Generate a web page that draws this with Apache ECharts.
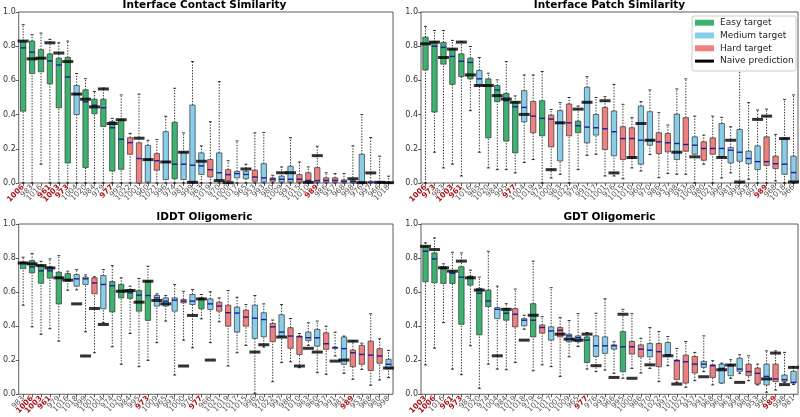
<!DOCTYPE html>
<html><head><meta charset="utf-8">
<script src="https://cdn.jsdelivr.net/npm/echarts@6/dist/echarts.min.js"></script>
<style>html,body{margin:0;padding:0;background:#fff}#c{width:800px;height:417px}</style>
</head><body><div id="c"></div>
<script>
// ---------- difficulty classes ----------
const easyTargets = ['1006','983','1016','961','1003','973','1020','984','979','977','995','974'];
const hardTargets = ['1022','1001','1021','1019','1000','953','980','1015','1010','989','986','957','968'];
const redTargets = ['1006','961','1003','973','977','989'];
const yTicks = [0, 0.2, 0.4, 0.6, 0.8, 1.0];

// ---------- Interface Contact Similarity ----------
const contactTargets = ['1006','983','1016','961','1003','973','1004','1020','984','979','977','995','1022','1001','960','1021','996','974','981','999','963','1019','970','1000','1017','965','953','993','980','1009','991','1015','1010','989','986','957','968','998','976','997','966','1018'];
const contactLow = [0,0,0.11,0,0,0,0,0,0,0,0,0,0,0,0,0,0,0,0,0,0,0,0,0,0,0,0,0,0,0,0,0,0,0,0,0,0,0,0,0,0,0];
const contactQ1 = [0.42,0.64,0.65,0.58,0.44,0.117,0.40,0.09,0.405,0.33,0.07,0.08,0.168,0,0.005,0.075,0.02,0.025,0.02,0.005,0.05,0.035,0.015,0.014,0.03,0.025,0.01,0.005,0.01,0.005,0.005,0.005,0.004,0.004,0.004,0.004,0.002,0.002,0.002,0.002,0.002,0.002];
const contactMed = [0.79,0.765,0.73,0.714,0.69,0.62,0.52,0.475,0.455,0.44,0.323,0.256,0.236,0.143,0.137,0.13,0.123,0.11,0.11,0.104,0.10,0.078,0.06,0.049,0.055,0.05,0.035,0.03,0.022,0.022,0.022,0.022,0.015,0.014,0.015,0.015,0.01,0.008,0.004,0.004,0.003,0.002];
const contactQ3 = [0.83,0.83,0.78,0.755,0.73,0.735,0.57,0.545,0.49,0.49,0.36,0.37,0.265,0.235,0.22,0.172,0.30,0.355,0.18,0.456,0.176,0.137,0.176,0.078,0.068,0.068,0.075,0.113,0.03,0.04,0.098,0.049,0.06,0.09,0.03,0.03,0.018,0.015,0.168,0.01,0.006,0.004];
const contactHigh = [0.926,0.867,0.877,0.84,0.82,0.83,0.64,0.61,0.535,0.555,0.378,0.515,0.29,0.52,0.25,0.254,0.39,0.554,0.293,0.71,0.217,0.358,0.593,0.13,0.246,0.11,0.293,0.295,0.045,0.094,0.265,0.123,0.094,0.215,0.06,0.055,0.055,0.217,0.40,0.266,0.157,0.04];
const contactNaive = [0.83,0.726,0.73,0.82,0.76,0.71,0.52,0.49,0.445,0.55,0.348,0.37,null,0.262,0.137,null,0.123,null,0.18,0.004,0.127,null,0.014,0.002,null,0.082,null,null,null,0.06,0.06,null,0.004,0.16,null,null,null,0.025,0.002,0.059,0.004,0.002];

// ---------- Interface Patch Similarity ----------
const patchTargets = ['1006','973','983','1003','961','1016','965','1020','984','995','977','1004','1019','974','1000','963','1022','979','991','1017','1001','976','1015','1010','960','970','986','957','998','953','1009','980','1021','996','981','999','993','997','989','968','1018','966'];
const patchLow = [0,0.18,0.088,0.11,0.041,0.423,0.18,0.088,0.078,0.078,0.059,0.12,0.137,0,0.029,0.051,0,0.078,0.162,0.168,0.041,0.041,0.025,0.088,0.07,0.166,0.031,0.055,0.051,0.051,0,0.11,0,0.029,0.059,0,0.022,0,0,0.012,0,0];
const patchQ1 = [0.661,0.415,0.695,0.577,0.622,0.609,0.57,0.264,0.476,0.245,0.176,0.358,0.294,0.276,0.211,0.129,0.276,0.294,0.235,0.28,0.196,0.159,0.137,0.147,0.11,0.221,0.172,0.182,0.137,0.186,0.168,0.133,0.168,0.153,0.117,0.127,0.113,0.078,0.102,0.084,0.051,0.006];
const patchMed = [0.814,0.80,0.793,0.74,0.712,0.705,0.609,0.57,0.544,0.481,0.446,0.442,0.391,0.378,0.374,0.352,0.352,0.335,0.327,0.323,0.317,0.30,0.26,0.26,0.25,0.25,0.241,0.235,0.231,0.225,0.221,0.202,0.202,0.202,0.192,0.18,0.143,0.125,0.125,0.113,0.11,0.061];
const patchQ3 = [0.853,0.824,0.822,0.783,0.755,0.73,0.658,0.609,0.57,0.524,0.472,0.54,0.476,0.481,0.397,0.423,0.462,0.362,0.56,0.401,0.442,0.421,0.329,0.323,0.45,0.417,0.294,0.29,0.403,0.382,0.27,0.241,0.264,0.348,0.207,0.313,0.186,0.217,0.27,0.157,0.26,0.157];
const patchHigh = [0.916,0.892,0.892,0.834,0.828,0.798,0.734,0.642,0.603,0.71,0.509,0.632,0.632,0.652,0.43,0.47,0.50,0.45,0.622,0.50,0.505,0.577,0.46,0.382,0.476,0.544,0.411,0.339,0.55,0.609,0.391,0.28,0.391,0.384,0.329,0.72,0.47,0.427,0.432,0.284,0.489,0.515];
const patchNaive = [0.814,0.824,0.734,0.783,0.824,0.632,0.57,0.57,0.511,0.491,0.472,0.401,null,null,0.078,0.352,null,0.432,0.472,null,0.481,0.059,null,0.149,0.348,0.25,null,null,0.18,null,0.153,null,null,0.149,0.25,0.006,null,0.372,0.391,null,0.26,0.006];

// ---------- lDDT Oligomeric ----------
const lddtTargets = ['983','1006','1003','961','979','1016','1018','999','1001','1004','974','1020','984','995','973','1009','965','993','1000','976','977','966','1021','1019','1017','1015','996','970','1022','997','986','1010','963','960','957','991','981','989','953','968','980','998'];
const lddtLow = [0.523,0.396,0.352,0.385,0.312,0.611,0.613,0.367,0.244,0.42,0.279,0.176,0.357,0.162,0.199,0.303,0.43,0.113,0.318,0.273,0.443,0.303,0.426,0.166,0.244,0.287,0.006,0.277,0.074,0.186,0.191,0.156,0.287,0.127,0.117,0.225,0.123,0.088,0.146,0.053,0.084,0.098];
const lddtQ1 = [0.738,0.713,0.652,0.682,0.531,0.664,0.635,0.645,0.59,0.502,0.484,0.566,0.563,0.488,0.434,0.518,0.518,0.488,0.537,0.527,0.502,0.498,0.488,0.40,0.365,0.40,0.328,0.338,0.309,0.342,0.27,0.234,0.316,0.283,0.264,0.27,0.176,0.162,0.176,0.14,0.182,0.15];
const lddtMed = [0.771,0.748,0.725,0.725,0.684,0.674,0.678,0.678,0.654,0.645,0.637,0.609,0.596,0.582,0.58,0.566,0.547,0.553,0.547,0.547,0.557,0.531,0.518,0.479,0.477,0.453,0.447,0.439,0.396,0.365,0.342,0.338,0.332,0.332,0.297,0.273,0.268,0.244,0.234,0.23,0.225,0.176];
const lddtQ3 = [0.777,0.785,0.758,0.748,0.717,0.709,0.703,0.688,0.684,0.697,0.662,0.645,0.615,0.609,0.664,0.58,0.566,0.566,0.557,0.586,0.566,0.56,0.541,0.523,0.512,0.494,0.523,0.479,0.416,0.467,0.391,0.342,0.365,0.381,0.361,0.277,0.336,0.26,0.287,0.312,0.268,0.205];
const lddtHigh = [0.805,0.826,0.781,0.795,0.814,0.723,0.732,0.701,0.69,0.732,0.756,0.684,0.635,0.68,0.752,0.59,0.58,0.645,0.605,0.615,0.586,0.602,0.566,0.609,0.57,0.527,0.58,0.531,0.436,0.527,0.445,0.357,0.42,0.43,0.40,0.365,0.342,0.312,0.30,0.473,0.326,0.258];
const lddtNaive = [0.771,0.766,0.756,0.742,0.684,0.67,0.531,0.225,0.504,0.41,null,0.605,0.609,0.541,0.664,0.551,0.531,null,0.166,0.463,0.56,0.201,null,null,null,null,0.248,0.291,null,0.336,null,0.166,0.27,0.248,null,0.195,0.201,0.312,null,null,null,0.154];

// ---------- GDT Oligomeric ----------
const gdtTargets = ['1003','1006','1016','961','973','983','1020','974','1004','984','1019','1018','979','1015','1017','1001','1009','965','977','976','993','966','995','1000','986','970','1022','997','1010','1021','957','991','968','960','963','999','980','953','996','989','998','981'];
const gdtLow = [0.173,0.271,0.421,0.148,0.115,0.285,0.035,0.177,0.148,0.144,0.187,0.382,0.138,0.173,0.162,0.105,0.22,0.281,0.148,0.133,0.142,0.123,0.094,0.152,0.125,0.152,0.074,0.168,0.07,0.041,0.08,0.133,0.055,0.066,0.094,0.123,0.08,0.055,0.012,0.025,0.07,0.057];
const gdtQ1 = [0.661,0.655,0.651,0.651,0.411,0.641,0.349,0.515,0.444,0.435,0.396,0.402,0.337,0.359,0.318,0.337,0.308,0.308,0.187,0.222,0.24,0.265,0.133,0.236,0.22,0.22,0.162,0.226,0.086,0.066,0.125,0.158,0.099,0.066,0.109,0.135,0.109,0.06,0.055,0.074,0.076,0.066];
const gdtMed = [0.84,0.795,0.739,0.71,0.688,0.684,0.593,0.548,0.499,0.476,0.47,0.435,0.435,0.392,0.372,0.376,0.343,0.333,0.318,0.285,0.285,0.285,0.279,0.279,0.265,0.259,0.25,0.232,0.197,0.191,0.177,0.177,0.168,0.152,0.168,0.148,0.133,0.123,0.105,0.09,0.086,0.07];
const gdtQ3 = [0.866,0.83,0.749,0.719,0.749,0.694,0.622,0.612,0.509,0.503,0.503,0.444,0.532,0.407,0.396,0.392,0.353,0.343,0.337,0.343,0.337,0.29,0.368,0.31,0.29,0.298,0.298,0.304,0.201,0.23,0.222,0.193,0.173,0.177,0.173,0.212,0.177,0.154,0.177,0.177,0.113,0.135];
const gdtHigh = [0.889,0.918,0.766,0.834,0.83,0.729,0.688,0.84,0.635,0.532,0.618,0.464,0.782,0.456,0.626,0.45,0.433,0.474,0.363,0.476,0.561,0.308,0.499,0.474,0.329,0.392,0.368,0.339,0.269,0.31,0.246,0.343,0.197,0.183,0.203,0.232,0.226,0.177,0.255,0.255,0.246,0.162];
const gdtNaive = [0.869,0.85,0.743,0.723,0.782,0.684,0.612,null,0.226,0.499,null,0.318,0.464,null,null,0.353,0.324,0.318,0.353,0.168,null,0.099,0.47,0.094,null,0.173,null,0.226,0.06,null,null,0.103,null,0.144,0.172,0.07,null,null,0.09,0.242,0.057,0.158];

// ---------- styling ----------
const COLORS = { easy: '#3cb371', medium: '#87ceeb', hard: '#f08080' };
const FONT = 'DejaVu Sans';
function diffColor(t) {
  if (easyTargets.includes(t)) return COLORS.easy;
  if (hardTargets.includes(t)) return COLORS.hard;
  return COLORS.medium;
}

const panels = [
  { title: 'Interface Contact Similarity', targets: contactTargets, low: contactLow, q1: contactQ1, med: contactMed, q3: contactQ3, high: contactHigh, naive: contactNaive },
  { title: 'Interface Patch Similarity', targets: patchTargets, low: patchLow, q1: patchQ1, med: patchMed, q3: patchQ3, high: patchHigh, naive: patchNaive },
  { title: 'lDDT Oligomeric', targets: lddtTargets, low: lddtLow, q1: lddtQ1, med: lddtMed, q3: lddtQ3, high: lddtHigh, naive: lddtNaive },
  { title: 'GDT Oligomeric', targets: gdtTargets, low: gdtLow, q1: gdtQ1, med: gdtMed, q3: gdtQ3, high: gdtHigh, naive: gdtNaive }
];
const gridPos = [
  { left: 16, top: 12 }, { left: 421, top: 12 },
  { left: 16, top: 224 }, { left: 421, top: 224 }
];
const GW = 377, GH = 171;

const option = {
  animation: false,
  backgroundColor: '#fff',
  title: [], grid: [], xAxis: [], yAxis: [], series: []
};

function renderBox(params, api) {
  const idx = api.value(0);
  const pLow = api.coord([idx, api.value(1)]);
  const pQ1 = api.coord([idx, api.value(2)]);
  const pMed = api.coord([idx, api.value(3)]);
  const pQ3 = api.coord([idx, api.value(4)]);
  const pHigh = api.coord([idx, api.value(5)]);
  const cx = pLow[0];
  const bw = api.size([1, 0])[0] * 0.6;
  const cap = bw * 0.28;
  const color = api.visual('color');
  const whisk = { stroke: '#000', lineWidth: 0.8, lineDash: [1.4, 1.4] };
  return {
    type: 'group',
    children: [
      { type: 'line', shape: { x1: cx, y1: pLow[1], x2: cx, y2: pQ1[1] }, style: whisk },
      { type: 'line', shape: { x1: cx, y1: pQ3[1], x2: cx, y2: pHigh[1] }, style: whisk },
      { type: 'line', shape: { x1: cx - cap, y1: pLow[1], x2: cx + cap, y2: pLow[1] }, style: { stroke: '#000', lineWidth: 0.8 } },
      { type: 'line', shape: { x1: cx - cap, y1: pHigh[1], x2: cx + cap, y2: pHigh[1] }, style: { stroke: '#000', lineWidth: 0.8 } },
      { type: 'rect', shape: { x: cx - bw / 2, y: pQ3[1], width: bw, height: Math.max(pQ1[1] - pQ3[1], 0.5) },
        style: { fill: color, stroke: '#333', lineWidth: 0.7 } },
      { type: 'line', shape: { x1: cx - bw / 2, y1: pMed[1], x2: cx + bw / 2, y2: pMed[1] }, style: { stroke: '#1c1c9c', lineWidth: 1.4 } }
    ]
  };
}

panels.forEach((p, i) => {
  const g = gridPos[i];
  option.grid.push({ left: g.left, top: g.top, width: GW, height: GH, show: true, borderColor: '#333', borderWidth: 0.8, backgroundColor: 'transparent' });
  option.title.push({
    text: p.title, left: g.left + GW / 2, top: i < 2 ? 0 : 212, textAlign: 'center', padding: 0,
    textStyle: { fontFamily: FONT, fontSize: 10.5, fontWeight: 'bold', color: '#000' }
  });
  option.xAxis.push({
    type: 'category', gridIndex: i, data: p.targets, boundaryGap: true,
    axisLine: { show: false },
    axisTick: { show: true, alignWithLabel: true, length: 3, lineStyle: { color: '#333', width: 0.8 } },
    axisLabel: {
      interval: 0, rotate: 45, fontSize: 7.5, margin: 3, color: '#555', fontFamily: FONT,
      formatter: v => redTargets.includes(v) ? '{r|' + v + '}' : v,
      rich: { r: { color: '#a8141b', fontWeight: 'bold', fontSize: 7.5, fontFamily: FONT } }
    },
    splitLine: { show: false }
  });
  option.yAxis.push({
    type: 'value', gridIndex: i, min: yTicks[0], max: yTicks[yTicks.length - 1], interval: 0.2,
    axisLine: { show: false },
    axisTick: { show: true, length: 3, lineStyle: { color: '#333', width: 0.8 } },
    axisLabel: { fontSize: 8, margin: 3, color: '#333', fontFamily: FONT, formatter: v => v.toFixed(1) },
    splitLine: { show: false }
  });
  const boxData = p.targets.map((t, k) => ({
    value: [k, p.low[k], p.q1[k], p.med[k], p.q3[k], p.high[k]],
    itemStyle: { color: diffColor(t) }
  }));
  option.series.push({
    type: 'custom', xAxisIndex: i, yAxisIndex: i, renderItem: renderBox,
    encode: { x: 0, y: [1, 2, 3, 4, 5] }, data: boxData, clip: false, z: 2
  });
  const naiveData = [];
  p.naive.forEach((v, k) => { if (v !== null) naiveData.push([k, v]); });
  option.series.push({
    type: 'scatter', xAxisIndex: i, yAxisIndex: i, data: naiveData,
    symbol: 'rect', symbolSize: [11, 3], itemStyle: { color: '#000' }, z: 3, silent: true
  });
});

// legend (drawn as graphic in the top-right panel)
const legendItems = [
  { label: 'Easy target', color: COLORS.easy, line: false },
  { label: 'Medium target', color: COLORS.medium, line: false },
  { label: 'Hard target', color: COLORS.hard, line: false },
  { label: 'Naive prediction', color: '#000', line: true }
];
const lg = [{ type: 'rect', shape: { x: 692, y: 16, width: 104, height: 55, r: 2 }, style: { fill: 'rgba(255,255,255,0.85)', stroke: '#ccc', lineWidth: 1 }, z: 100 }];
legendItems.forEach((it, k) => {
  const cy = 22.7 + k * 12.8;
  if (it.line) lg.push({ type: 'rect', shape: { x: 695, y: cy - 1.5, width: 19, height: 3 }, style: { fill: '#000' }, z: 101 });
  else lg.push({ type: 'rect', shape: { x: 695, y: cy - 3, width: 19, height: 6 }, style: { fill: it.color }, z: 101 });
  lg.push({ type: 'text', x: 720, y: cy, style: { text: it.label, fontFamily: FONT, fontSize: 9, fill: '#222', verticalAlign: 'middle', align: 'left' }, z: 101 });
});
option.graphic = lg;

const chart = echarts.init(document.getElementById('c'), null, { renderer: 'canvas' });
chart.setOption(option);
</script>
</body></html>
